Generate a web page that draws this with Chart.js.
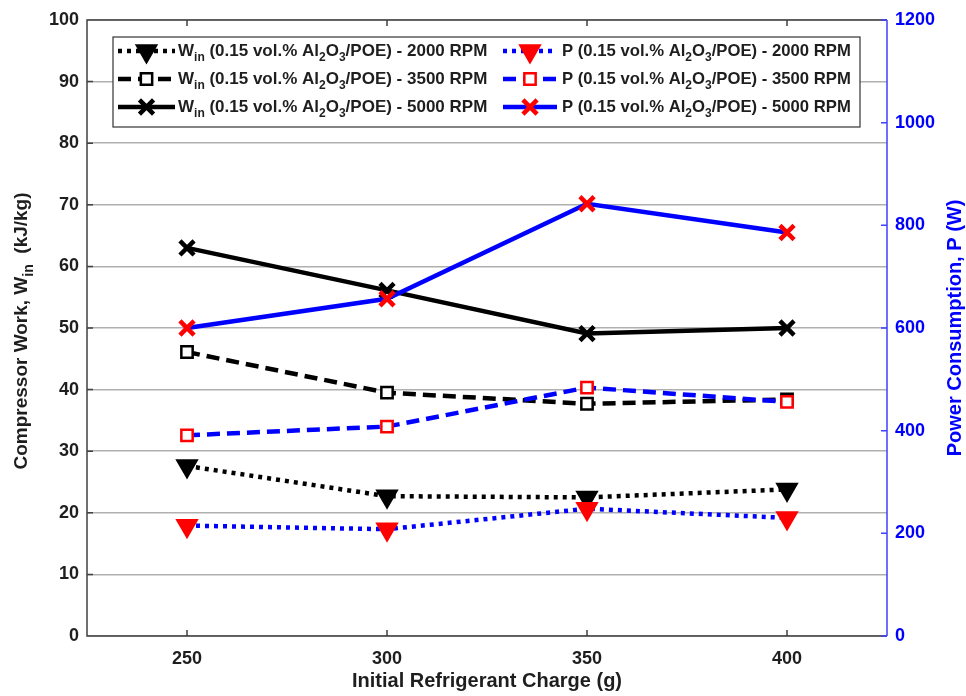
<!DOCTYPE html>
<html>
<head>
<meta charset="utf-8">
<script src="https://cdn.jsdelivr.net/npm/chart.js@4/dist/chart.umd.min.js"></script>
<style>
  body { margin: 0; background: #fff; }
  canvas { display: block; }
</style>
</head>
<body>
<canvas id="chart" width="966" height="696"></canvas>
<script>
// refrigerant charge (g)
const charge = [250, 300, 350, 400];
// compressor work (kJ/kg)
const win2000 = [27.6, 22.7, 22.5, 23.8];
const win3500 = [46.1, 39.5, 37.7, 38.4];
const win5000 = [63.0, 56.1, 49.1, 50.0];
// power consumption (W)
const p2000 = [215, 208, 248, 230];
const p3500 = [391, 408, 484, 456];
const p5000 = [600, 657, 842, 786];

const leftTicks = [0, 10, 20, 30, 40, 50, 60, 70, 80, 90, 100];
const rightTicks = [0, 200, 400, 600, 800, 1000, 1200];

const FONT = '"Liberation Sans", Arial, sans-serif';
const BLUE = '#0000ff';
const AXIS_BLUE = '#4040ff';
const TXT = '#1e1e1e';

const DOT = [4, 5];
const DASH = [13, 7];

function pts(vals) {
    return charge.map((c, i) => ({ x: c, y: vals[i] }));
}

// text with subscripts: parts = [text, [subText], text, ...]
function richWidth(ctx, parts, size) {
    let w = 0;
    parts.forEach(p => {
        const sub = Array.isArray(p);
        ctx.font = 'bold ' + (sub ? Math.round(size * 0.72) : size) + 'px ' + FONT;
        w += ctx.measureText(sub ? p[0] : p).width;
    });
    return w;
}
function drawRich(ctx, parts, x, y, size) {
    ctx.textBaseline = 'middle';
    ctx.textAlign = 'left';
    parts.forEach(p => {
        const sub = Array.isArray(p);
        ctx.font = 'bold ' + (sub ? Math.round(size * 0.72) : size) + 'px ' + FONT;
        const t = sub ? p[0] : p;
        ctx.fillText(t, x, sub ? y + size * 0.38 : y);
        x += ctx.measureText(t).width;
    });
}

const legendItems = [
    { parts: ['W', ['in'], ' (0.15 vol.% Al', ['2'], 'O', ['3'], '/POE) - 2000 RPM'], color: '#000', mark: '#000', fill: '#000', dash: DOT, style: 'triangle', r: 11, rot: 180 },
    { parts: ['W', ['in'], ' (0.15 vol.% Al', ['2'], 'O', ['3'], '/POE) - 3500 RPM'], color: '#000', mark: '#000', fill: '#fff', dash: DASH, style: 'rect', r: 8, rot: 0 },
    { parts: ['W', ['in'], ' (0.15 vol.% Al', ['2'], 'O', ['3'], '/POE) - 5000 RPM'], color: '#000', mark: '#000', fill: '#000', dash: [], style: 'crossRot', r: 10, rot: 0 },
    { parts: ['P (0.15 vol.% Al', ['2'], 'O', ['3'], '/POE) - 2000 RPM'], color: BLUE, mark: '#ff0000', fill: '#ff0000', dash: DOT, style: 'triangle', r: 11, rot: 180 },
    { parts: ['P (0.15 vol.% Al', ['2'], 'O', ['3'], '/POE) - 3500 RPM'], color: BLUE, mark: '#ff0000', fill: '#fff', dash: DASH, style: 'rect', r: 8, rot: 0 },
    { parts: ['P (0.15 vol.% Al', ['2'], 'O', ['3'], '/POE) - 5000 RPM'], color: BLUE, mark: '#ff0000', fill: '#ff0000', dash: [], style: 'crossRot', r: 10, rot: 0 }
];

const framePlugin = {
    id: 'frame',
    afterDraw(chart) {
        const ctx = chart.ctx;
        const a = chart.chartArea;
        const xs = chart.scales.x, ys = chart.scales.y, y1 = chart.scales.y1;
        ctx.save();

        // box
        ctx.lineWidth = 1.5;
        ctx.strokeStyle = '#404040';
        ctx.beginPath();
        ctx.moveTo(a.right, a.top); ctx.lineTo(a.left, a.top);
        ctx.lineTo(a.left, a.bottom); ctx.lineTo(a.right, a.bottom);
        leftTicks.forEach(v => {
            const y = ys.getPixelForValue(v);
            ctx.moveTo(a.left, y); ctx.lineTo(a.left + 6, y);
        });
        charge.forEach(v => {
            const x = xs.getPixelForValue(v);
            ctx.moveTo(x, a.bottom); ctx.lineTo(x, a.bottom - 6);
            ctx.moveTo(x, a.top); ctx.lineTo(x, a.top + 6);
        });
        ctx.stroke();

        ctx.strokeStyle = AXIS_BLUE;
        ctx.beginPath();
        ctx.moveTo(a.right, a.top); ctx.lineTo(a.right, a.bottom);
        rightTicks.forEach(v => {
            const y = y1.getPixelForValue(v);
            ctx.moveTo(a.right, y); ctx.lineTo(a.right - 6, y);
        });
        ctx.stroke();

        // axis titles
        ctx.fillStyle = TXT;
        ctx.font = 'bold 20px ' + FONT;
        ctx.textAlign = 'center';
        ctx.textBaseline = 'middle';
        ctx.fillText('Initial Refrigerant Charge (g)', 487, 681);

        const lt = ['Compressor Work, W', ['in'], '  (kJ/kg)'];
        ctx.save();
        ctx.translate(22, 331);
        ctx.rotate(-Math.PI / 2);
        const lw = richWidth(ctx, lt, 19);
        drawRich(ctx, lt, -lw / 2, 0, 19);
        ctx.restore();

        ctx.save();
        ctx.fillStyle = BLUE;
        ctx.translate(955, 328);
        ctx.rotate(-Math.PI / 2);
        ctx.font = 'bold 20px ' + FONT;
        ctx.textAlign = 'center';
        ctx.fillText('Power Consumption, P (W)', 0, 0);
        ctx.restore();

        // legend
        const bx = 113, by = 37, bw = 747, bh = 90;
        ctx.fillStyle = '#fff';
        ctx.fillRect(bx, by, bw, bh);
        ctx.lineWidth = 1.2;
        ctx.strokeStyle = '#333';
        ctx.strokeRect(bx, by, bw, bh);

        const rows = [51, 79, 107];
        legendItems.forEach((it, i) => {
            const col = i < 3 ? 0 : 1;
            const y = rows[i % 3];
            const x0 = col ? 503 : 118, x1 = col ? 557 : 175, tx = col ? 562 : 178;
            ctx.setLineDash(it.dash);
            ctx.lineWidth = 4.5;
            ctx.strokeStyle = it.color;
            ctx.beginPath();
            ctx.moveTo(x0, y); ctx.lineTo(x1, y);
            ctx.stroke();
            ctx.setLineDash([]);
            ctx.fillStyle = it.fill;
            ctx.strokeStyle = it.mark;
            ctx.lineWidth = it.style === 'crossRot' ? 4.5 : 2.5;
            Chart.helpers.drawPoint(ctx, { pointStyle: it.style, radius: it.r, rotation: it.rot, borderWidth: ctx.lineWidth }, (x0 + x1) / 2, y);
            ctx.fillStyle = TXT;
            drawRich(ctx, it.parts, tx, y, col ? 16.7 : 17);
        });

        ctx.restore();
    }
};

function series(vals, axis, color, markColor, fill, dash, style, r, rot, order) {
    return {
        data: pts(vals),
        yAxisID: axis,
        borderColor: color,
        borderWidth: 4.5,
        borderDash: dash,
        pointStyle: style,
        pointRadius: r,
        pointRotation: rot,
        pointBackgroundColor: fill,
        pointBorderColor: markColor,
        pointBorderWidth: style === 'crossRot' ? 4.5 : 2.5,
        tension: 0,
        order: order
    };
}

const tickFont = { family: FONT, size: 18, weight: 'bold' };

new Chart(document.getElementById('chart'), {
    type: 'line',
    data: {
        datasets: [
            series(win2000, 'y', '#000', '#000', '#000', DOT, 'triangle', 11, 180, 1),
            series(win3500, 'y', '#000', '#000', '#fff', DASH, 'rect', 8, 0, 1),
            series(win5000, 'y', '#000', '#000', '#000', [], 'crossRot', 10, 0, 1),
            series(p2000, 'y1', BLUE, '#ff0000', '#ff0000', DOT, 'triangle', 11, 180, 0),
            series(p3500, 'y1', BLUE, '#ff0000', '#fff', DASH, 'rect', 8, 0, 0),
            series(p5000, 'y1', BLUE, '#ff0000', '#ff0000', [], 'crossRot', 10, 0, 0)
        ]
    },
    options: {
        responsive: false,
        animation: false,
        layout: { padding: { top: 20, left: 0, right: 0, bottom: 0 } },
        plugins: { legend: { display: false }, tooltip: { enabled: false } },
        scales: {
            x: {
                type: 'linear',
                min: 225,
                max: 425,
                afterBuildTicks: s => { s.ticks = charge.map(v => ({ value: v })); },
                afterFit: s => { s.height = 60; },
                grid: { display: false },
                border: { display: false },
                ticks: { color: TXT, font: tickFont, padding: 4, callback: v => String(v) }
            },
            y: {
                position: 'left',
                min: 0,
                max: 100,
                afterBuildTicks: s => { s.ticks = leftTicks.map(v => ({ value: v })); },
                afterFit: s => { s.width = 87; },
                grid: { color: '#b0b0b0', lineWidth: 1.5, drawTicks: false },
                border: { display: false },
                ticks: { color: TXT, font: tickFont, padding: 8, callback: v => String(v) }
            },
            y1: {
                position: 'right',
                min: 0,
                max: 1200,
                afterBuildTicks: s => { s.ticks = rightTicks.map(v => ({ value: v })); },
                afterFit: s => { s.width = 79; },
                grid: { display: false, drawTicks: false },
                border: { display: false },
                ticks: { color: BLUE, font: tickFont, padding: 8, callback: v => String(v) }
            }
        }
    },
    plugins: [framePlugin]
});
</script>
</body>
</html>
